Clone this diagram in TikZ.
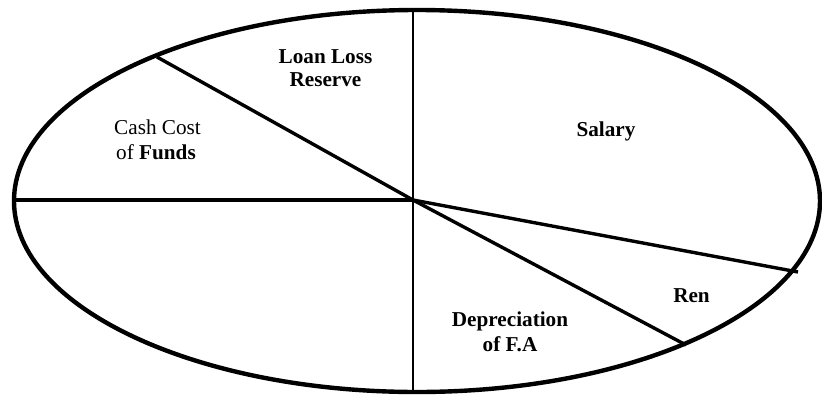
\documentclass[tikz,border=0pt]{standalone}
\usepackage{fontspec}
\setmainfont{Liberation Serif}
\tikzset{
  rim/.style={line width=4.4pt},
  spoke/.style={line width=3.4pt},
  vspoke/.style={line width=2.2pt},
  lbl/.style={anchor=base, inner sep=0pt, font=\fontsize{21.2}{25}\selectfont},
  blbl/.style={lbl, font=\fontsize{21.2}{25}\selectfont\bfseries}
}
\begin{document}
\begin{tikzpicture}[x=1pt,y=-1pt]
\useasboundingbox (0,0) rectangle (822,394);
\coordinate (o) at (413,200);
\coordinate (left) at (14,200);
\coordinate (top) at (413,10);
\coordinate (bot) at (413,392);
\coordinate (p1) at (157,57);
\coordinate (p2) at (798,272);
\coordinate (p3) at (686,345);
\draw[rim] (417,201) ellipse [x radius=403pt, y radius=191pt];
\draw[spoke] (left) -- (o);
\draw[vspoke] (top) -- (bot);
\draw[spoke] (p1) -- (o);
\draw[spoke] (o) -- (p2);
\draw[spoke] (o) -- (p3);
\node[blbl] (ll1) at (325.5,63.3) {Loan Loss};
\node[blbl] (ll2) at (325.5,86.7) {Reserve};
\node[lbl] (cc1) at (157.5,134) {Cash Cost};
\node[lbl] (cc2) at (156,159.3) {of \textbf{Funds}};
\node[blbl] (sal) at (606,136) {Salary};
\node[blbl] (ren) at (691.5,302.7) {Ren};
\node[blbl] (dep1) at (510,326.7) {Depreciation};
\node[blbl] (dep2) at (510,351.7) {of F.A};
\end{tikzpicture}
\end{document}
